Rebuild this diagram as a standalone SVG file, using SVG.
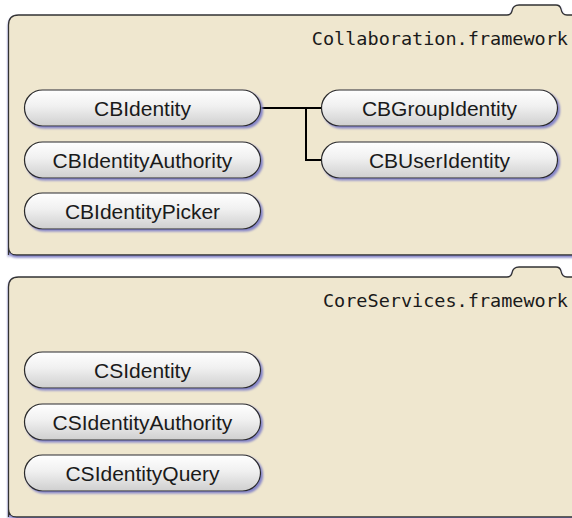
<svg xmlns="http://www.w3.org/2000/svg" width="572" height="518" viewBox="0 0 572 518">
<defs>
<linearGradient id="pg" x1="0" y1="0" x2="0" y2="1">
<stop offset="0" stop-color="#ffffff"/>
<stop offset="0.45" stop-color="#f0f0f0"/>
<stop offset="1" stop-color="#cfcfcf"/>
</linearGradient>
<filter id="sh" x="-10%" y="-20%" width="120%" height="150%">
<feGaussianBlur in="SourceAlpha" stdDeviation="0.8"/>
<feOffset dx="1.5" dy="2" result="o"/>
<feFlood flood-color="#8484c8"/>
<feComposite in2="o" operator="in"/>
<feMerge><feMergeNode/><feMergeNode in="SourceGraphic"/></feMerge>
</filter>
<filter id="fsh" x="-5%" y="-5%" width="110%" height="110%">
<feGaussianBlur in="SourceAlpha" stdDeviation="0.8"/>
<feOffset dx="-0.5" dy="2" result="o"/>
<feFlood flood-color="#8484c8"/>
<feComposite in2="o" operator="in"/>
<feMerge><feMergeNode/><feMergeNode in="SourceGraphic"/></feMerge>
</filter>
</defs>
<style>
.folder{fill:#efe7cf;stroke:#333;stroke-width:1.3;filter:url(#fsh)}
.fl{font-family:"DejaVu Sans Mono",monospace;font-size:18.5px;fill:#1a1a1a;text-anchor:end}
.pill{fill:url(#pg);stroke:#2a2a2a;stroke-width:1.2;filter:url(#sh)}
.pl{font-family:"Liberation Sans",Arial,sans-serif;font-size:21px;fill:#1a1a1a;text-anchor:middle}
.conn{fill:none;stroke:#000;stroke-width:2}
</style>
<rect width="572" height="518" fill="#ffffff"/>
<g id="collaboration-framework">
<path class="folder" d="M8.5,255 L8.5,25 Q8.5,15 18.5,15 L507,15 Q511,15 512,11 Q513,5 519,5 L556,5 Q560,5 561,9 Q562,15 567,15 L600,15 L600,255 L16.5,255 Q8.5,255 8.5,247 Z"/>
<text class="fl" x="568" y="45">Collaboration.framework</text>
</g>
<g id="coreservices-framework">
<path class="folder" d="M8.5,517 L8.5,287 Q8.5,277 18.5,277 L507,277 Q511,277 512,273 Q513,267 519,267 L556,267 Q560,267 561,271 Q562,277 567,277 L600,277 L600,517 L16.5,517 Q8.5,517 8.5,509 Z"/>
<text class="fl" x="568" y="307">CoreServices.framework</text>
</g>
<g id="connectors">
<path class="conn" d="M261,108 L322,108 M306,108 L306,160 L322,160"/>
</g>
<g id="CBIdentity"><rect class="pill" x="24.5" y="90" width="236" height="36" rx="18"/><text class="pl" x="142.5" y="115.5">CBIdentity</text></g>
<g id="CBIdentityAuthority"><rect class="pill" x="24.5" y="142" width="236" height="36" rx="18"/><text class="pl" x="142.5" y="167.5">CBIdentityAuthority</text></g>
<g id="CBIdentityPicker"><rect class="pill" x="24.5" y="193" width="236" height="36" rx="18"/><text class="pl" x="142.5" y="218.5">CBIdentityPicker</text></g>
<g id="CBGroupIdentity"><rect class="pill" x="321.5" y="90" width="236" height="36" rx="18"/><text class="pl" x="439.5" y="115.5">CBGroupIdentity</text></g>
<g id="CBUserIdentity"><rect class="pill" x="321.5" y="142" width="236" height="36" rx="18"/><text class="pl" x="439.5" y="167.5">CBUserIdentity</text></g>
<g id="CSIdentity"><rect class="pill" x="24.5" y="352" width="236" height="36" rx="18"/><text class="pl" x="142.5" y="377.5">CSIdentity</text></g>
<g id="CSIdentityAuthority"><rect class="pill" x="24.5" y="404" width="236" height="36" rx="18"/><text class="pl" x="142.5" y="429.5">CSIdentityAuthority</text></g>
<g id="CSIdentityQuery"><rect class="pill" x="24.5" y="455" width="236" height="36" rx="18"/><text class="pl" x="142.5" y="480.5">CSIdentityQuery</text></g>
</svg>
